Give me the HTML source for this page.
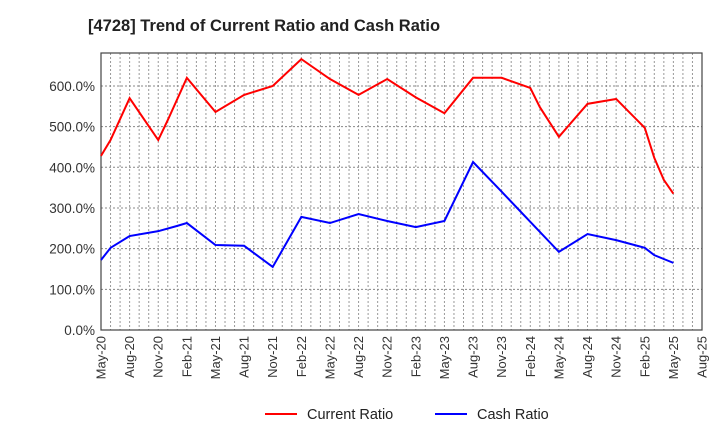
<!DOCTYPE html>
<html><head><meta charset="utf-8"><style>
body{margin:0;background:#fff;font-family:"Liberation Sans",sans-serif}
</style></head><body>
<svg id="c" width="720" height="440" xmlns="http://www.w3.org/2000/svg">
<text x="88" y="31" font-size="16.5" font-weight="bold" fill="#222">[4728]  Trend of Current Ratio and Cash Ratio</text>
<g id="grid"></g><g id="axes"></g><g id="series"></g>
<g>
<line x1="265" y1="414" x2="297" y2="414" stroke="#f00" stroke-width="2"/>
<text x="307" y="419" font-size="14.5" fill="#222">Current Ratio</text>
<line x1="435" y1="414" x2="467" y2="414" stroke="#00f" stroke-width="2"/>
<text x="477" y="419" font-size="14.5" fill="#222">Cash Ratio</text>
</g>
</svg>
<script>
const xTickLabels=["May-20","Aug-20","Nov-20","Feb-21","May-21","Aug-21","Nov-21","Feb-22","May-22","Aug-22","Nov-22","Feb-23","May-23","Aug-23","Nov-23","Feb-24","May-24","Aug-24","Nov-24","Feb-25","May-25","Aug-25"];
const yTicks=[0,100,200,300,400,500,600];
const currentMonths=[0,1,3,6,7,9,12,15,18,21,24,27,30,33,36,39,42,45,46,48,51,54,57,58,59,60];
const currentValues=[428,467,570,467,516,620,536,578,600,666,617,578,617,572,533,620,620,595,548,475,556,568,497,423,369,335];
const cashMonths=[0,1,3,6,8,9,12,15,18,21,24,27,30,33,36,39,42,45,48,51,54,57,58,60];
const cashValues=[172,202,231,243,256,263,209,207,155,278,263,285,268,253,268,413,340,266,192,236,221,202,184,165];
const L=101,R=702,T=53,B=330,NM=63,YMAX=681;
const X=m=>L+m*(R-L)/NM, Y=v=>B-v*(B-T)/YMAX;
const ns="http://www.w3.org/2000/svg";
function mk(t,a,p){const e=document.createElementNS(ns,t);for(const k in a)e.setAttribute(k,a[k]);p.appendChild(e);return e;}
const g=document.getElementById('grid'),ax=document.getElementById('axes'),s=document.getElementById('series');
for(let m=1;m<NM;m++){const l=mk('line',{x1:X(m),x2:X(m),y1:T,y2:B,stroke:'#999','stroke-dasharray':'2,2','stroke-width':1},g);

}
yTicks.forEach(v=>{if(v>0){const l=mk('line',{x1:L,x2:R,y1:Y(v),y2:Y(v),stroke:'#888','stroke-dasharray':'2,2'},g);

}
const t=mk('text',{x:L-6,y:Y(v)+5,'text-anchor':'end','font-size':13.5,fill:'#333'},ax);t.textContent=v.toFixed(1)+'%';

});
const fr=mk('rect',{x:L,y:T,width:R-L,height:B-T,fill:'none',stroke:'#444','stroke-width':1.2},ax);


xTickLabels.forEach((lab,i)=>{const x=X(i*3)+4.5;const t=mk('text',{x:x,y:336,transform:`rotate(-90 ${x} 336)`,'text-anchor':'end','font-size':13,fill:'#333'},ax);t.textContent=lab;

});
const p1=mk('polyline',{points:currentMonths.map((m,i)=>X(m)+','+Y(currentValues[i])).join(' '),fill:'none',stroke:'#f00','stroke-width':2},s);


const p2=mk('polyline',{points:cashMonths.map((m,i)=>X(m)+','+Y(cashValues[i])).join(' '),fill:'none',stroke:'#00f','stroke-width':2},s);


</script>
</body></html>
